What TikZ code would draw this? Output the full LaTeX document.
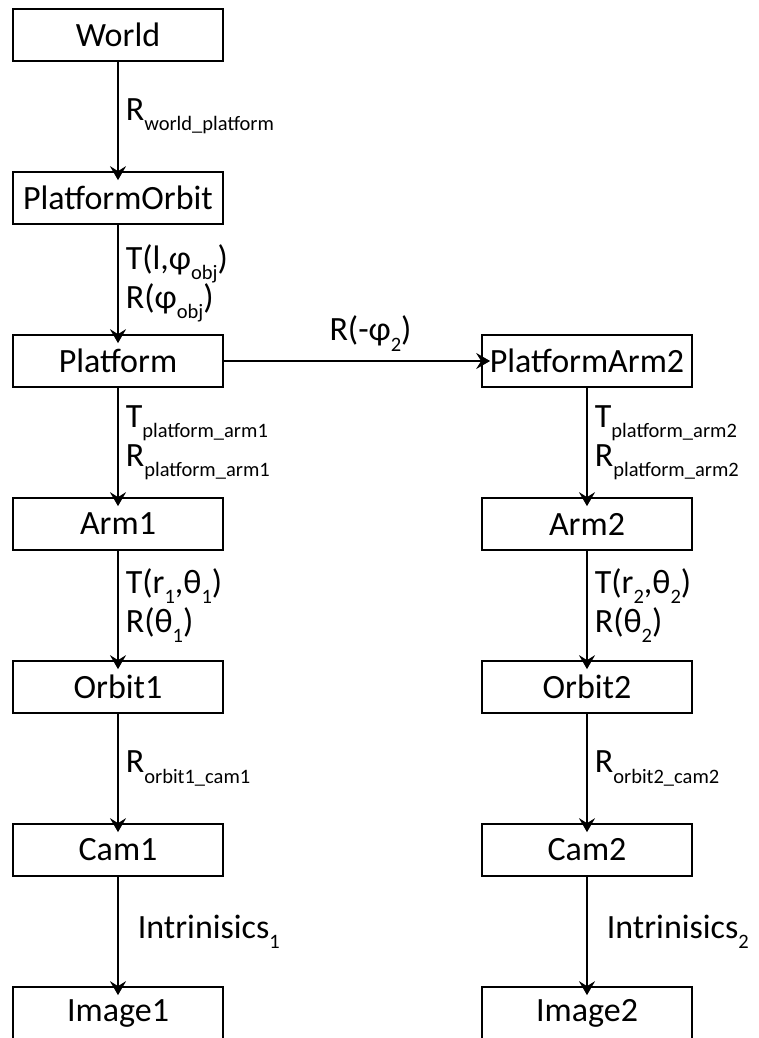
\documentclass[tikz,border=0pt]{standalone}
\usepackage{fontspec}
\setmainfont{Carlito}
\usetikzlibrary{arrows.meta, positioning}
\newcommand\lowsub[1]{\raisebox{-0.3em}{\fontsize{20.5}{22}\selectfont #1}}

\begin{document}
\begin{tikzpicture}[>={Stealth[length=14pt,width=16pt,inset=5pt]},shorten >=-9pt,auto,node distance=163pt,line width=1.7pt,font=\fontsize{34}{39}\selectfont]
                    \tikzstyle{frame} = [draw, minimum width=210pt, minimum height=52pt, inner sep=0pt]
                    \tikzstyle{every edge label} = [align=left, inner sep=7pt]
                    \useasboundingbox (0,0) rectangle (759pt,-1038pt);

                    % left chain
                    \node[frame](W) at (118pt,-35pt){World};
                    \node[frame](PO)[below of=W]{PlatformOrbit};
                    \node[frame](P)[below of=PO]{Platform};
                    \node[frame](A1)[below of=P]{Arm1};
                    \node[frame](O1)[below of=A1]{Orbit1};
                    \node[frame](C1)[below of=O1]{Cam1};
                    \node[frame](I1)[below of=C1]{Image1};

                    % right chain
                    \node[frame](PA2)[right of=P, node distance=469pt]{PlatformArm2};
                    \node[frame](A2)[below of=PA2]{Arm2};
                    \node[frame](O2)[below of=A2]{Orbit2};
                    \node[frame](C2)[below of=O2]{Cam2};
                    \node[frame](I2)[below of=C2]{Image2};

                    \path[->] (W) edge node[every edge label] {R\lowsub{world\_platform}} (PO);
                    \path[->] (PO) edge node[every edge label, yshift=-4pt] {T(l,φ\lowsub{obj})\\R(φ\lowsub{obj})} (P);
                    \path[->] (P) edge node[pos=0.57, inner sep=9pt] {R(-φ\lowsub{2})} (PA2);

                    \path[->] (P) edge node[every edge label] {T\lowsub{platform\_arm1}\\R\lowsub{platform\_arm1}} (A1);
                    \path[->] (A1) edge node[every edge label] {T(r\lowsub{1},θ\lowsub{1})\\R(θ\lowsub{1})} (O1);
                    \path[->] (O1) edge node[every edge label] {R\lowsub{orbit1\_cam1}} (C1);
                    \path[->] (C1) edge node[every edge label, xshift=12pt] {Intrinisics\lowsub{1}} (I1);

                    \path[->] (PA2) edge node[every edge label] {T\lowsub{platform\_arm2}\\R\lowsub{platform\_arm2}} (A2);
                    \path[->] (A2) edge node[every edge label] {T(r\lowsub{2},θ\lowsub{2})\\R(θ\lowsub{2})} (O2);
                    \path[->] (O2) edge node[every edge label] {R\lowsub{orbit2\_cam2}} (C2);
                    \path[->] (C2) edge node[every edge label, xshift=12pt] {Intrinisics\lowsub{2}} (I2);

                \end{tikzpicture}
\end{document}
